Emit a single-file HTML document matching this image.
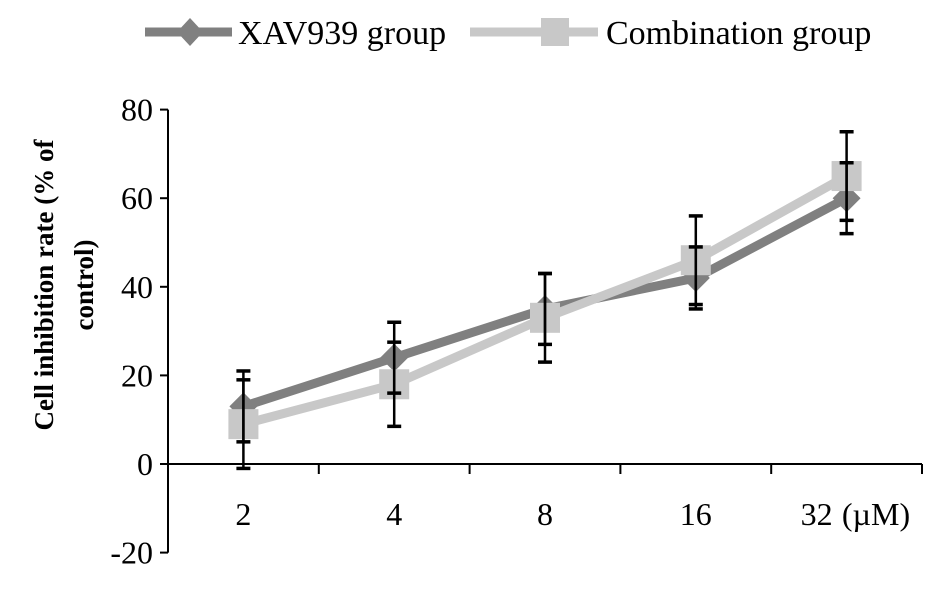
<!DOCTYPE html>
<html><head><meta charset="utf-8"><style>
body{margin:0;background:#fff}
svg{display:block;font-family:"Liberation Serif",serif}
</style></head><body>
<svg id="chart" width="944" height="591" viewBox="0 0 944 591">
<g id="legend">
<g>
<line x1="145" y1="32" x2="232" y2="32" stroke="#808080" stroke-width="9"/>
<polygon points="190,18 203,32 190,46 177,32" fill="#808080"/>
<text x="238" y="44" font-size="34" fill="#000">XAV939 group</text>
</g>
<g>
<line x1="470" y1="32" x2="598" y2="32" stroke="#c8c8c8" stroke-width="9"/>
<rect x="541" y="18" width="28" height="28" fill="#c8c8c8"/>
<text x="606" y="44" font-size="34" fill="#000">Combination group</text>
</g>
</g>
<g font-weight="bold" font-size="27">
<text transform="translate(53,285) rotate(-90)" text-anchor="middle">Cell  inhibition rate (% of</text>
<text transform="translate(93,285) rotate(-90)" text-anchor="middle">control)</text>
</g>
<g id="axes"></g>
<g id="marks"></g>
</svg>
<script>
const categories = ["2","4","8","16","32"];
const xavValues = [13, 24, 35, 42, 60];
const xavErrors = [8, 8, 8, 7, 8];
const comboValues = [9, 18, 33, 46, 65];
const comboErrors = [10, 9.5, 10, 10, 10];
const yTicks = [-20, 0, 20, 40, 60, 80];

const NS = "http://www.w3.org/2000/svg";
const axisX = 168, axisEnd = 922;
const band = (axisEnd - axisX) / categories.length;
const y = v => 464 - v * (88.6 / 20);
const x = i => axisX + band * (i + 0.5);
function mk(tag, attrs, parent, text) {
  const e = document.createElementNS(NS, tag);
  for (const k in attrs) e.setAttribute(k, attrs[k]);
  if (text !== undefined) e.textContent = text;
  parent.appendChild(e);
  return e;
}
const axes = document.getElementById('axes');
const marks = document.getElementById('marks');
let el;
el = mk('line', {x1: axisX, y1: y(80), x2: axisX, y2: y(-20), stroke: '#000', 'stroke-width': 2}, axes);


yTicks.forEach(t => {
  el = mk('line', {x1: axisX - 8, y1: y(t), x2: axisX, y2: y(t), stroke: '#000', 'stroke-width': 2}, axes);
  
  
  el = mk('text', {x: axisX - 15, y: y(t) + 11, 'text-anchor': 'end', 'font-size': 32}, axes, String(t));
  
  
});
el = mk('line', {x1: axisX, y1: y(0), x2: axisEnd, y2: y(0), stroke: '#000', 'stroke-width': 2}, axes);


categories.forEach((c, i) => {
  const tx = axisX + band * (i + 1);
  el = mk('line', {x1: tx, y1: y(0), x2: tx, y2: y(0) + 10, stroke: '#000', 'stroke-width': 2}, axes);
  
  
  el = mk('text', {x: x(i) - (i === 4 ? 30 : 0), y: 525, 'text-anchor': 'middle', 'font-size': 32}, axes, c);
  
  
});
el = mk('text', {x: 876, y: 525, 'text-anchor': 'middle', 'font-size': 32}, axes, '(\u00b5M)');



function series(vals, color, name, marker) {
  el = mk('polyline', {points: vals.map((v, i) => x(i) + ',' + y(v)).join(' '), fill: 'none', stroke: color, 'stroke-width': 9}, marks);
  
  
  vals.forEach((v, i) => {
    if (marker === 'diamond') {
      el = mk('polygon', {points: `${x(i)},${y(v)-14} ${x(i)+14},${y(v)} ${x(i)},${y(v)+14} ${x(i)-14},${y(v)}`, fill: color}, marks);
    } else {
      el = mk('rect', {x: x(i) - 15, y: y(v) - 15, width: 30, height: 30, fill: color}, marks);
    }
    
    
  });
}
function errors(vals, errs, name) {
  vals.forEach((v, i) => {
    const g = mk('g', {stroke: '#000', 'stroke-width': 2.5}, marks);
    
    
    const cx = x(i), t = y(v + errs[i]), b = y(v - errs[i]);
    mk('line', {x1: cx, y1: t, x2: cx, y2: b}, g);
    mk('line', {x1: cx - 7, y1: t, x2: cx + 7, y2: t, 'stroke-width': 3.5}, g);
    mk('line', {x1: cx - 7, y1: b, x2: cx + 7, y2: b, 'stroke-width': 3.5}, g);
  });
}
series(xavValues, '#808080', 'xav939', 'diamond');
series(comboValues, '#c8c8c8', 'combination', 'square');
errors(xavValues, xavErrors, 'xav939');
errors(comboValues, comboErrors, 'combination');
</script>
</body></html>
